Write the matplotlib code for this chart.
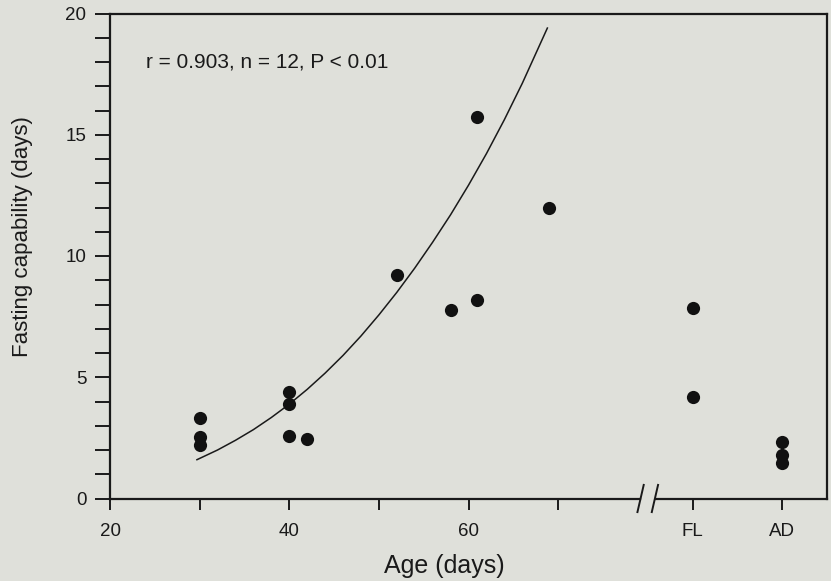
import matplotlib
matplotlib.use('Agg')
import matplotlib.pyplot as plt
import matplotlib.transforms as mtransforms

plt.rcParams['font.family'] = ['Liberation Sans', 'DejaVu Sans']

# chicks: age (days) vs fasting capability (days)
age = [30, 30, 30, 40, 40, 40, 42, 52, 58, 61, 61, 69]
fasting = [3.33, 2.55, 2.2, 4.38, 3.88, 2.58, 2.44, 9.2, 7.78, 15.74, 8.19, 12.0]

# fledglings (FL) and adults (AD), drawn past the axis break
fl_pos, ad_pos = 85, 95
fl_fasting = [7.87, 4.17]
ad_fasting = [2.34, 1.79, 1.47]

# fitted curve
curve_age = [29.7, 32, 34, 36, 38, 40, 42, 44, 46, 48, 50, 52, 54, 56, 58, 60, 62, 64, 66, 68.8]
curve_fasting = [1.6, 2.0, 2.4, 2.84, 3.34, 3.89, 4.5, 5.17, 5.9, 6.7, 7.57, 8.5, 9.5,
                 10.57, 11.7, 12.92, 14.22, 15.62, 17.12, 19.4]

xticks = [20, 30, 40, 50, 60, 70, fl_pos, ad_pos]
xticklabels = ['20', '', '40', '', '60', '', 'FL', 'AD']
break_at = 80

bg = '#dfe0da'
ink = '#1a1a1a'

fig = plt.figure(figsize=(8.31, 5.81), dpi=100, facecolor=bg)
ax = fig.add_axes([110/831, 82.5/581, 717/831, 485/581], facecolor=bg)

ax.plot(curve_age, curve_fasting, color=ink, lw=1.1)
ax.plot(age, fasting, 'o', color='#111111', ms=9.5, mec='none')
ax.plot([fl_pos]*len(fl_fasting), fl_fasting, 'o', color='#111111', ms=9.5, mec='none')
ax.plot([ad_pos]*len(ad_fasting), ad_fasting, 'o', color='#111111', ms=9.5, mec='none')

ax.set_xlim(20, 100)
ax.set_ylim(0, 20)

ax.set_xticks(xticks)
ax.set_xticklabels(xticklabels)
ax.set_yticks([0, 5, 10, 15, 20])
ax.set_yticks(range(0, 21), minor=True)
ax.tick_params(axis='x', direction='out', length=8, width=1.4, pad=10,
               labelsize=13.5, colors=ink)
ax.tick_params(axis='y', which='both', direction='out', length=11, width=1.4,
               pad=6, labelsize=13.5, colors=ink)

for side in ['left', 'top', 'right']:
    ax.spines[side].set_linewidth(1.6)
    ax.spines[side].set_color(ink)
ax.spines['bottom'].set_visible(False)

# bottom axis line with a gap and two slashes
trans = mtransforms.blended_transform_factory(ax.transData, ax.transAxes)
gap = 0.9
ax.plot([20, break_at - gap], [0, 0], color=ink, lw=1.6, transform=trans, clip_on=False)
ax.plot([break_at + gap, 100], [0, 0], color=ink, lw=1.6, transform=trans, clip_on=False)
for xb in [break_at - 0.8, break_at + 0.8]:
    ax.plot([xb - 0.35, xb + 0.35], [-0.028, 0.028], color=ink, lw=1.4,
            transform=trans, clip_on=False)

ax.text(24, 18, 'r = 0.903, n = 12, P < 0.01', fontsize=15, color=ink, va='center')

ax.set_xlabel('Age (days)', fontsize=18, color=ink)
ax.set_ylabel('Fasting capability (days)', fontsize=16, color=ink)
ax.xaxis.set_label_coords(0.466, -0.115)
ax.yaxis.set_label_coords(-0.107, 0.54)

fig.savefig('out.png', dpi=100, facecolor=bg)
